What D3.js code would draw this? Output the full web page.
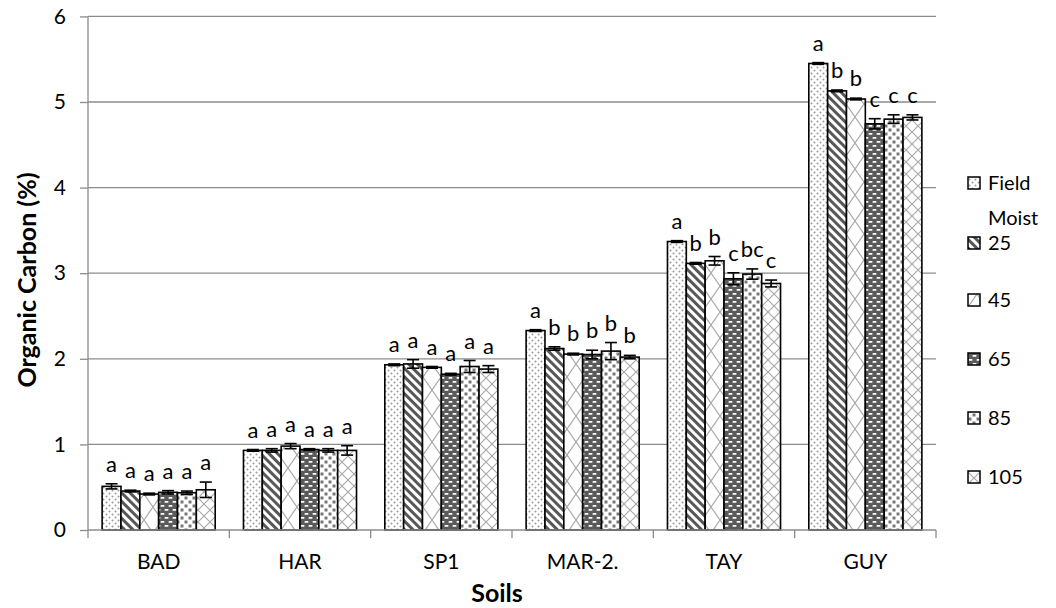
<!DOCTYPE html>
<html>
<head>
<meta charset="utf-8">
<script src="https://cdn.jsdelivr.net/npm/d3@7"></script>
<style>
  body { margin: 0; background: #fff; }
  text { font-family: Lato, "Open Sans", sans-serif; fill: #000; }
  .grid line { stroke: #8c8c8c; stroke-width: 1.3; }
  .axis path, .axis line { stroke: #8c8c8c; stroke-width: 1.3; }
</style>
</head>
<body>
<script>
// soils and moisture treatments
var soils = ["BAD", "HAR", "SP1", "MAR-2.", "TAY", "GUY"];
var moistures = ["Field Moist", "25", "45", "65", "85", "105"];

// organic carbon (%) per treatment, one value per soil
var fieldMoist = [0.51, 0.93, 1.93, 2.33, 3.37, 5.45];
var m25  = [0.455, 0.93, 1.94, 2.12, 3.115, 5.13];
var m45  = [0.42, 0.98, 1.90, 2.055, 3.145, 5.035];
var m65  = [0.44, 0.94, 1.82, 2.05, 2.935, 4.745];
var m85  = [0.435, 0.93, 1.91, 2.09, 2.99, 4.80];
var m105 = [0.47, 0.93, 1.88, 2.02, 2.88, 4.82];

// error bars (+/-)
var errFM  = [0.03, 0.01, 0.01, 0.01, 0.01, 0.01];
var err25  = [0.01, 0.02, 0.05, 0.02, 0.01, 0.01];
var err45  = [0.01, 0.03, 0.01, 0.01, 0.05, 0.01];
var err65  = [0.02, 0.01, 0.01, 0.05, 0.07, 0.06];
var err85  = [0.02, 0.02, 0.07, 0.10, 0.06, 0.05];
var err105 = [0.09, 0.055, 0.04, 0.02, 0.04, 0.03];

// significance letters
var letFM  = ["a", "a", "a", "a", "a", "a"];
var let25  = ["a", "a", "a", "b", "b", "b"];
var let45  = ["a", "a", "a", "b", "b", "b"];
var let65  = ["a", "a", "a", "b", "c", "c"];
var let85  = ["a", "a", "a", "b", "bc", "c"];
var let105 = ["a", "a", "a", "b", "c", "c"];

var yTicks = [0, 1, 2, 3, 4, 5, 6];

var seriesValues = [fieldMoist, m25, m45, m65, m85, m105];
var seriesErrors = [errFM, err25, err45, err65, err85, err105];
var seriesLetters = [letFM, let25, let45, let65, let85, let105];

var width = 1056, height = 608;
var plot = {left: 88, right: 936, top: 16.4, bottom: 530};

var svg = d3.select("body").append("svg")
    .attr("width", width)
    .attr("height", height);

// fill patterns
var defs = svg.append("defs");

var p0 = defs.append("pattern").attr("id", "pat0")
    .attr("patternUnits", "userSpaceOnUse").attr("width", 6).attr("height", 6);
p0.append("rect").attr("width", 6).attr("height", 6).attr("fill", "#fff");
p0.append("circle").attr("cx", 1.5).attr("cy", 1.5).attr("r", 1).attr("fill", "#9a9a9a");
p0.append("circle").attr("cx", 4.5).attr("cy", 4.5).attr("r", 1).attr("fill", "#9a9a9a");

var p1 = defs.append("pattern").attr("id", "pat1")
    .attr("patternUnits", "userSpaceOnUse").attr("width", 6).attr("height", 6)
    .attr("patternTransform", "rotate(-45)");
p1.append("rect").attr("width", 6).attr("height", 6).attr("fill", "#fff");
p1.append("rect").attr("width", 3).attr("height", 6).attr("fill", "#575757");

var p2 = defs.append("pattern").attr("id", "pat2")
    .attr("patternUnits", "userSpaceOnUse").attr("width", 18).attr("height", 26);
p2.append("rect").attr("width", 18).attr("height", 26).attr("fill", "#fff");
p2.append("path").attr("d", "M0,0L18,26M18,0L0,26")
    .attr("stroke", "#a8a8a8").attr("stroke-width", 1.2).attr("fill", "none");

var p3 = defs.append("pattern").attr("id", "pat3")
    .attr("patternUnits", "userSpaceOnUse").attr("width", 8).attr("height", 8);
p3.append("rect").attr("width", 8).attr("height", 8).attr("fill", "#5a5a5a");
p3.append("rect").attr("x", 0.5).attr("y", 1).attr("width", 4).attr("height", 1.8).attr("rx", 0.9).attr("fill", "#fff");
p3.append("rect").attr("x", 4.5).attr("y", 5).attr("width", 4).attr("height", 1.8).attr("rx", 0.9).attr("fill", "#fff");
p3.append("rect").attr("x", -3.5).attr("y", 5).attr("width", 4).attr("height", 1.8).attr("rx", 0.9).attr("fill", "#fff");

var p4 = defs.append("pattern").attr("id", "pat4")
    .attr("patternUnits", "userSpaceOnUse").attr("width", 8).attr("height", 8);
p4.append("rect").attr("width", 8).attr("height", 8).attr("fill", "#fff");
p4.append("rect").attr("x", 0.5).attr("y", 0.5).attr("width", 3).attr("height", 3).attr("fill", "#777");
p4.append("rect").attr("x", 4.5).attr("y", 4.5).attr("width", 3).attr("height", 3).attr("fill", "#777");

var p5 = defs.append("pattern").attr("id", "pat5")
    .attr("patternUnits", "userSpaceOnUse").attr("width", 12).attr("height", 12);
p5.append("rect").attr("width", 12).attr("height", 12).attr("fill", "#fff");
p5.append("path").attr("d", "M0,0L12,12M12,0L0,12")
    .attr("stroke", "#a8a8a8").attr("stroke-width", 1.1).attr("fill", "none");

// scales
var x0 = d3.scaleBand().domain(soils).range([plot.left, plot.right]);
var x1 = d3.scaleBand().domain(d3.range(moistures.length))
    .range([0, x0.bandwidth()]).paddingInner(0).paddingOuter(0.75);
var y = d3.scaleLinear().domain([0, 6]).range([plot.bottom, plot.top]);

// gridlines
svg.append("g").attr("class", "grid")
  .selectAll("line")
    .data(yTicks.filter(function(d) { return d > 0; }))
  .enter().append("line")
    .attr("x1", plot.left).attr("x2", plot.right)
    .attr("y1", function(d) { return y(d); })
    .attr("y2", function(d) { return y(d); });

// bars
var bars = [];
seriesValues.forEach(function(vals, s) {
  vals.forEach(function(v, i) {
    bars.push({soil: soils[i], s: s, v: v, e: seriesErrors[s][i], l: seriesLetters[s][i]});
  });
});

var g = svg.append("g");

g.selectAll("rect.bar")
    .data(bars)
  .enter().append("rect")
    .attr("class", "bar")
    .attr("x", function(d) { return x0(d.soil) + x1(d.s); })
    .attr("y", function(d) { return y(d.v); })
    .attr("width", x1.bandwidth())
    .attr("height", function(d) { return y(0) - y(d.v); })
    .attr("fill", function(d) { return "url(#pat" + d.s + ")"; })
    .attr("stroke", "#000")
    .attr("stroke-width", 1.6);

// error bars
var eb = g.selectAll("g.err")
    .data(bars)
  .enter().append("g")
    .attr("class", "err")
    .attr("transform", function(d) { return "translate(" + (x0(d.soil) + x1(d.s) + x1.bandwidth() / 2) + ",0)"; });

eb.append("line")
    .attr("y1", function(d) { return y(d.v - d.e); })
    .attr("y2", function(d) { return y(d.v + d.e); })
    .attr("stroke", "#000").attr("stroke-width", 1.6);
eb.append("line")
    .attr("x1", -6).attr("x2", 6)
    .attr("y1", function(d) { return y(d.v + d.e); })
    .attr("y2", function(d) { return y(d.v + d.e); })
    .attr("stroke", "#000").attr("stroke-width", 1.6);
eb.append("line")
    .attr("x1", -6).attr("x2", 6)
    .attr("y1", function(d) { return y(d.v - d.e); })
    .attr("y2", function(d) { return y(d.v - d.e); })
    .attr("stroke", "#000").attr("stroke-width", 1.6);

// letters
g.selectAll("text.letter")
    .data(bars)
  .enter().append("text")
    .attr("class", "letter")
    .attr("x", function(d) { return x0(d.soil) + x1(d.s) + x1.bandwidth() / 2; })
    .attr("y", function(d) { return y(d.v + d.e) - 12; })
    .attr("text-anchor", "middle")
    .style("font-size", "22px")
    .text(function(d) { return d.l; });

// y axis
var yAxis = svg.append("g").attr("class", "axis")
    .attr("transform", "translate(" + plot.left + ",0)")
    .call(d3.axisLeft(y).tickValues(yTicks).tickSize(8).tickPadding(14).tickFormat(d3.format("d")));
yAxis.select(".domain").attr("d", "M0," + plot.top + "V" + plot.bottom);
yAxis.selectAll("text").style("font-size", "21px");

// x axis
var xAxis = svg.append("g").attr("class", "axis")
    .attr("transform", "translate(0," + plot.bottom + ")")
    .call(d3.axisBottom(x0).tickSize(0).tickPadding(24));
xAxis.select(".domain").attr("d", "M" + plot.left + ",0H" + plot.right);
xAxis.selectAll("text").style("font-size", "21px");
xAxis.selectAll(".bound")
    .data(soils.concat(["end"]))
  .enter().append("line")
    .attr("class", "bound")
    .attr("x1", function(d, i) { return plot.left + i * x0.step(); })
    .attr("x2", function(d, i) { return plot.left + i * x0.step(); })
    .attr("y1", 0).attr("y2", 8);

// axis titles
svg.append("text")
    .attr("x", (plot.left + plot.right) / 2 - 15)
    .attr("y", 602)
    .attr("text-anchor", "middle")
    .style("font-size", "25px").style("font-weight", "bold")
    .text("Soils");

svg.append("text")
    .attr("transform", "translate(36,280) rotate(-90)")
    .attr("text-anchor", "middle")
    .style("font-size", "25px").style("font-weight", "bold")
    .text("Organic Carbon (%)");

// legend
var legendY = [190, 250, 307, 366, 425, 484];
var legend = svg.append("g").selectAll("g")
    .data(moistures)
  .enter().append("g")
    .attr("transform", function(d, i) { return "translate(968," + legendY[i] + ")"; });

legend.append("rect")
    .attr("x", 0).attr("y", -13)
    .attr("width", 12).attr("height", 12)
    .attr("fill", function(d, i) { return "url(#pat" + i + ")"; })
    .attr("stroke", "#000").attr("stroke-width", 1.5);

legend.append("text")
    .attr("x", 20)
    .style("font-size", "20px")
    .each(function(d) {
      var words = d.split(" ");
      var t = d3.select(this);
      words.forEach(function(w, k) {
        t.append("tspan").attr("x", 20).attr("dy", k ? 35 : 0).text(w);
      });
    });
</script>
</body>
</html>
